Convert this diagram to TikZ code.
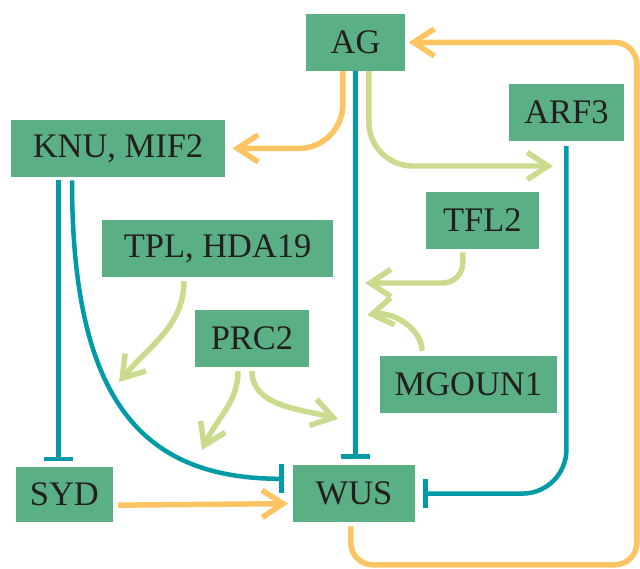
\documentclass[tikz,border=0pt]{standalone}
\usepackage{fontspec}
\setmainfont{Liberation Serif}
\usepackage{tikz}
\usetikzlibrary{arrows.meta}

\definecolor{boxgreen}{RGB}{91,175,132}
\definecolor{inhibteal}{RGB}{0,155,166}
\definecolor{actorange}{RGB}{252,196,98}
\definecolor{actlime}{RGB}{203,219,142}
\definecolor{ink}{RGB}{35,31,32}

\begin{document}
\begin{tikzpicture}[
  gene/.style={fill=boxgreen, text=ink, inner sep=0pt, minimum height=1.425cm,
    font=\fontsize{24.5}{29}\selectfont},
  act/.style={line width=3.9pt, -{Straight Barb[length=0.52cm, width=0.68cm]}},
  inhib/.style={line width=3.2pt, color=inhibteal, -{Bar[width=0.72cm]}}]
  \useasboundingbox (0,0) rectangle (16,14.2);

  % genes
  \node[gene, minimum width=2.475cm] (ag) at (8.89,13.14) {AG};
  \node[gene, minimum width=5.35cm] (knu) at (2.95,10.49) {KNU, MIF2};
  \node[gene, minimum width=5.775cm] (tpl) at (5.44,7.99) {TPL, HDA19};
  \node[gene, minimum width=2.875cm] (arf) at (14.16,11.39) {ARF3};
  \node[gene, minimum width=2.825cm] (tfl) at (12.06,8.69) {TFL2};
  \node[gene, minimum width=2.85cm] (prc) at (6.30,5.74) {PRC2};
  \node[gene, minimum width=4.425cm] (mgo) at (11.71,4.59) {MGOUN1};
  \node[gene, minimum width=2.425cm, minimum height=1.375cm] (syd) at (1.61,1.84) {SYD};
  \node[gene, minimum width=3.05cm] (wus) at (8.85,1.86) {WUS};

  % free arrow ends
  \coordinate (c-arf) at (13.825,10.05);
  \coordinate (c-tpl) at (2.975,4.65);
  \coordinate (c-prca) at (5.05,2.95);
  \coordinate (c-prcb) at (8.45,3.725);
  \coordinate (c-tfl) at (9.125,7.125);
  \coordinate (c-mgo) at (9.175,6.325);
  \coordinate (c-loop) at (15.92,0.08);
  \coordinate (k) at ([xshift=-0.15cm]syd.north);

  % inhibitions
  \draw[inhib, shorten >=0.15cm] (ag.south) -- (ag.south |- wus.north);
  \draw[inhib, rounded corners=1.1cm, shorten >=0.2cm, shorten <=0.12cm] (arf.south) |- (wus.east);
  \draw[inhib, shorten >=0.13cm, shorten <=0.08cm] (k |- knu.south) -- (k);
  \draw[inhib, shorten >=0.22cm, shorten <=0.08cm] ([xshift=-1.15cm]knu.south)
    .. controls +(0,-5.55) and +(-3.8,0) .. ([yshift=0.37cm]wus.west);

  % activations
  \draw[act, actorange, rounded corners=1.1cm, shorten >=0.18cm] ([xshift=-0.32cm]ag.south) |- (knu.east);
  \draw[act, actlime, rounded corners=1.1cm] ([xshift=0.33cm]ag.south) |- (c-arf);
  \draw[act, actorange, rounded corners=0.55cm, shorten >=0.08cm, shorten <=0.1cm]
    ([xshift=-0.08cm]wus.south) |- (c-loop) |- (ag.east);
  \draw[act, actorange, shorten >=0.12cm, shorten <=0.12cm] ([yshift=-0.27cm]syd.east) -- ([yshift=-0.25cm]wus.west);
  \draw[act, actlime, shorten <=0.1cm] ([xshift=-0.84cm]tpl.south) to[out=-90, in=50] (c-tpl);
  \draw[act, actlime, shorten <=0.1cm] ([xshift=-0.35cm]prc.south) to[out=-90, in=65] (c-prca);
  \draw[act, actlime, shorten <=0.1cm] (prc.south) to[out=-90, in=165] (c-prcb);
  \draw[act, actlime, rounded corners=0.5cm, shorten <=0.08cm] ([xshift=-0.49cm]tfl.south) |- (c-tfl);
  \draw[act, actlime, shorten <=0.12cm] ([xshift=-1.16cm]mgo.north) to[out=90, in=8] (c-mgo);
\end{tikzpicture}
\end{document}
